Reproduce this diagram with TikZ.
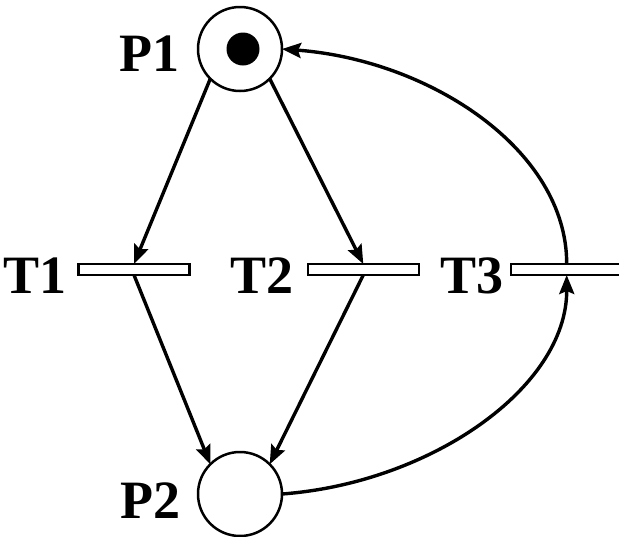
\documentclass[tikz,border=0pt]{standalone}
\usepackage{fontspec}
\setmainfont{Liberation Serif}
\usetikzlibrary{arrows.meta}
\tikzset{
  place/.style={circle,draw,line width=2.5pt,minimum size=84pt,inner sep=0pt,outer sep=0pt},
  tokendot/.style={circle,fill=black,minimum size=33pt,inner sep=0pt},
  transbar/.style={rectangle,draw,line width=2.2pt,minimum width=111pt,minimum height=11pt,inner sep=0pt,outer sep=0pt},
  lbl/.style={anchor=base east,inner sep=0pt,font=\fontsize{54}{54}\selectfont\bfseries},
  arc/.style={line width=3.4pt,-{Stealth[length=19pt,width=15pt,inset=3pt]}}
}
\begin{document}
\begin{tikzpicture}[x=1pt,y=-1pt]
\useasboundingbox (0,0) rectangle (619,536);
\node[place] (P1) at (240,49) {};
\node[tokendot] (tok) at (243,49) {};
\node[place] (P2) at (240,494) {};
\node[transbar] (T1) at (134,269.5) {};
\node[transbar] (T2) at (363.3,269.5) {};
\node[transbar] (T3) at (566.7,269.5) {};
\node[lbl] (LP1) at (180,71) {P1};
\node[lbl] (LP2) at (181,518) {P2};
\node[lbl] (LT1) at (67,293) {T1};
\node[lbl] (LT2) at (294,293) {T2};
\node[lbl] (LT3) at (504,293) {T3};
\draw[arc] (P1.south west) -- (T1.north);
\draw[arc] (P1.south east) -- (T2.north);
\draw[arc] (T1.south) -- (P2.north west);
\draw[arc] (T2.south) -- (P2.north east);
\draw[arc] (T3.north) .. controls (567,150) and (430,60) .. (P1.east);
\draw[arc] (P2.east) .. controls (430,483) and (567,388) .. (T3.south);
\end{tikzpicture}
\end{document}
